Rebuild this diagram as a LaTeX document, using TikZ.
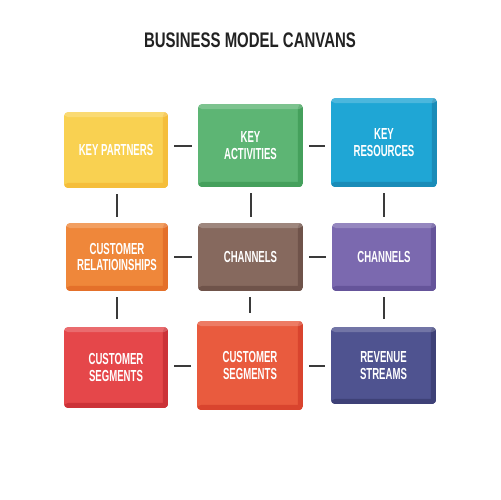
\documentclass[tikz,border=0pt]{standalone}
\usepackage{fontspec}
\usepackage{tikz}
\usetikzlibrary{positioning}
\newfontfamily\cardfont{Liberation Sans}[FakeStretch=0.6]
\newfontfamily\headfont{Liberation Sans}[FakeStretch=0.71]

\definecolor{kpY}{HTML}{F9D151}\definecolor{kpYd}{HTML}{F5BE3A}
\definecolor{kaG}{HTML}{5DB574}\definecolor{kaGd}{HTML}{45A05C}
\definecolor{krB}{HTML}{1FA6D5}\definecolor{krBd}{HTML}{1A8CB8}
\definecolor{crO}{HTML}{EF873A}\definecolor{crOd}{HTML}{E4702A}
\definecolor{chBr}{HTML}{86695E}\definecolor{chBrd}{HTML}{6F534A}
\definecolor{chP}{HTML}{7B69AF}\definecolor{chPd}{HTML}{65549A}
\definecolor{csR}{HTML}{E5474A}\definecolor{csRd}{HTML}{CC3238}
\definecolor{csO}{HTML}{E95B3E}\definecolor{csOd}{HTML}{D9442E}
\definecolor{rsN}{HTML}{4F5390}\definecolor{rsNd}{HTML}{3E4177}
\definecolor{linkgray}{HTML}{3A3A3A}
\definecolor{headgray}{HTML}{222222}

\tikzset{
    card/.style 2 args = {rounded corners=0.08cm, fill=#1, text=white, align=center, inner sep=0pt,
        font=\cardfont\bfseries\fontsize{9.1}{9.3}\selectfont,
        path picture={
            \fill[#2] ([xshift=-0.1cm]path picture bounding box.north east) rectangle (path picture bounding box.south east);
            \fill[#2] (path picture bounding box.south west) rectangle ([yshift=0.1cm]path picture bounding box.south east);
            \fill[white,opacity=0.2] (path picture bounding box.north west) rectangle ([yshift=-0.1cm]path picture bounding box.north east);
        }},
    link/.style = {draw=linkgray, line width=0.04cm, shorten <=0.12cm, shorten >=0.12cm},
    linkv/.style = {link, shorten >=0.16cm},
    head/.style = {font=\headfont\bfseries\fontsize{12}{14}\selectfont, text=headgray}
}

\begin{document}
\begin{tikzpicture}[x=0.02cm,y=-0.02cm]
\fill[white] (0,0) rectangle (500,500);
\useasboundingbox (0,0) rectangle (500,500);

\node[head] at (250,40) (title) {BUSINESS MODEL CANVANS};

% first row
\node[card={kpY}{kpYd}, minimum width=2.08cm, minimum height=1.52cm] at (116,150) (kp) {KEY PARTNERS};
\node[card={kaG}{kaGd}, minimum width=2.10cm, minimum height=1.66cm] at (250.5,145.5) (ka) {KEY\\ACTIVITIES};
\node[card={krB}{krBd}, minimum width=2.12cm, minimum height=1.78cm] at (384,142.5) (kr) {KEY\\RESOURCES};
% second row
\node[card={crO}{crOd}, minimum width=2.04cm, minimum height=1.36cm] at (117,257) (cr) {CUSTOMER\\RELATIOINSHIPS};
\node[card={chBr}{chBrd}, minimum width=2.10cm, minimum height=1.36cm] at (250.5,257) (ch) {CHANNELS};
\node[card={chP}{chPd}, minimum width=2.08cm, minimum height=1.36cm] at (384,257) (chb) {CHANNELS};
% third row
\node[card={csR}{csRd}, minimum width=2.08cm, minimum height=1.62cm] at (116,367.5) (cs) {CUSTOMER\\SEGMENTS};
\node[card={csO}{csOd}, minimum width=2.12cm, minimum height=1.78cm] at (250,365.5) (csb) {CUSTOMER\\SEGMENTS};
\node[card={rsN}{rsNd}, minimum width=2.10cm, minimum height=1.54cm] at (383.5,365.5) (rs) {REVENUE\\STREAMS};
%
\draw[link] (kp.east |- ka.west) -- (ka.west);
\draw[link] (ka.east) -- (ka.east -| kr.west);
\draw[link] (cr.east) -- (ch.west);
\draw[link] (ch.east) -- (chb.west);
\draw[link] (cs.east |- csb.west) -- (csb.west);
\draw[link] (csb.east) -- (csb.east -| rs.west);
%
\draw[link] (kp.south -| cr.north) -- (cr.north);
\draw[link] (ka.south) -- (ch.north);
\draw[link] (kr.south) -- (chb.north);
\draw[linkv] (cr.south) -- (cr.south |- cs.north);
\draw[linkv] (ch.south -| csb.north) -- (csb.north);
\draw[linkv] (chb.south) -- (chb.south |- rs.north);

\end{tikzpicture}
\end{document}
